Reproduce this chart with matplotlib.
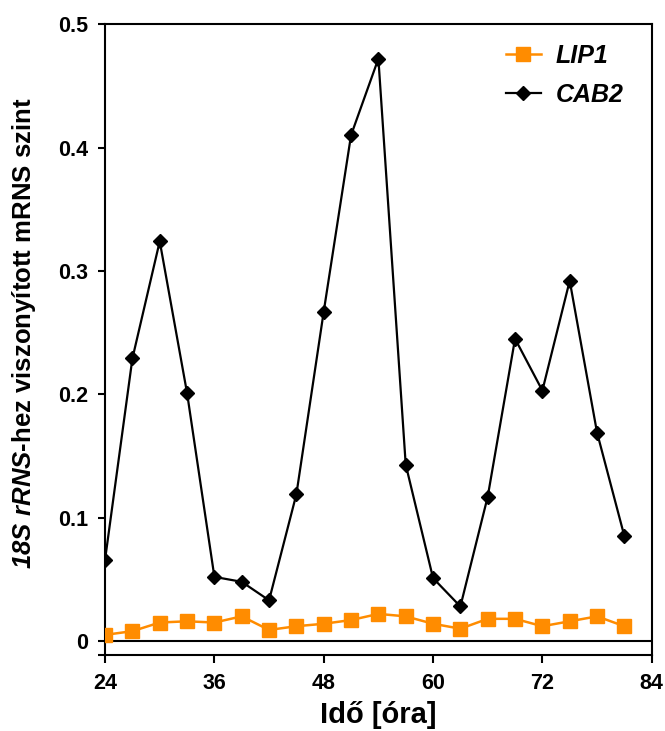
import matplotlib.pyplot as plt

plt.rcParams['font.family'] = ['Liberation Sans', 'DejaVu Sans']
plt.rcParams['font.weight'] = 'bold'
plt.rcParams['mathtext.fontset'] = 'custom'
# digits in \mathit fall back to rm, so rm is italic too (only used in the label)
plt.rcParams['mathtext.it'] = 'Liberation Sans:italic:bold'
plt.rcParams['mathtext.rm'] = 'Liberation Sans:italic:bold'

hours = [24, 27, 30, 33, 36, 39, 42, 45, 48, 51, 54, 57, 60, 63, 66, 69, 72, 75, 78, 81]
lip1 = [0.005, 0.008, 0.015, 0.016, 0.015, 0.020, 0.009, 0.012, 0.014, 0.017,
        0.022, 0.020, 0.014, 0.010, 0.018, 0.018, 0.012, 0.016, 0.020, 0.012]
cab2 = [0.066, 0.229, 0.324, 0.201, 0.052, 0.048, 0.033, 0.119, 0.267, 0.410,
        0.472, 0.143, 0.051, 0.028, 0.117, 0.245, 0.203, 0.292, 0.169, 0.085]
xticks = [24, 36, 48, 60, 72, 84]
yticks = [0, 0.1, 0.2, 0.3, 0.4, 0.5]
ybottom = -0.0113

fig = plt.figure(figsize=(6.65, 7.31), dpi=100)
ax = fig.add_axes([0.158, 0.104, 0.822, 0.863])

ax.plot(hours, lip1, color='#FF8C00', marker='s', markersize=10.5, lw=1.8,
        label='LIP1', zorder=3)
ax.plot(hours, cab2, color='black', marker='D', markersize=7.5, lw=1.6,
        label='CAB2', zorder=4)
ax.axhline(0, color='black', lw=1.5, zorder=2)

ax.set_xlim(24, 84)
ax.set_ylim(ybottom, 0.5)
ax.set_xticks(xticks)
ax.set_yticks([ybottom] + yticks)
ax.set_yticklabels([''] + ['0', '0.1', '0.2', '0.3', '0.4', '0.5'])
ax.tick_params(direction='out', width=1.5, labelsize=15.5)
ax.tick_params(axis='x', length=6, pad=7)
ax.tick_params(axis='y', length=5, pad=7)
for s in ax.spines.values():
    s.set_linewidth(1.5)

ax.set_xlabel('Idő [óra]', fontsize=21, fontweight='bold', labelpad=5)
ax.set_ylabel(r'$\mathit{18S\ rRNS}$-hez viszonyított mRNS szint',
              fontsize=18.5, fontweight='bold')
ax.yaxis.set_label_coords(-0.123, 0.51)

leg = ax.legend(loc='upper right', frameon=False, fontsize=18, handlelength=1.4,
                handletextpad=0.6, borderaxespad=0.4, labelspacing=0.6,
                bbox_to_anchor=(0.985, 1.0))
for t in leg.get_texts():
    t.set_fontstyle('italic')

fig.savefig('out.png', dpi=100)
